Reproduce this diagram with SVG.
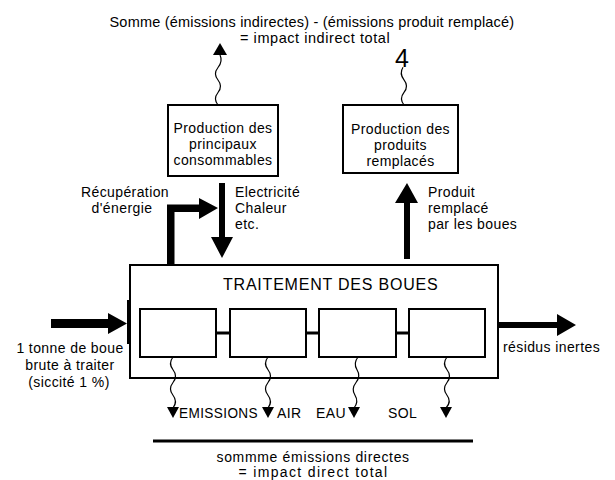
<svg xmlns="http://www.w3.org/2000/svg" width="615" height="480" viewBox="0 0 615 480">
<style>
.t{font-family:"Liberation Sans","Arial",sans-serif;font-size:14px;letter-spacing:0.4px;fill:#000}
.m{text-anchor:middle}
.box{fill:#fff;stroke:#000;stroke-width:2}
.wave{fill:none;stroke:#000;stroke-width:1.2}
.link{stroke:#000;stroke-width:3}
.thick{fill:#000}
</style>
<rect width="615" height="480" fill="#fff"/>

<g id="title">
<text class="t m" x="312" y="27" style="font-size:14.5px" textLength="405" lengthAdjust="spacing">Somme (émissions indirectes) - (émissions produit remplacé)</text>
<text class="t m" x="315" y="43" style="font-size:14.5px" textLength="150" lengthAdjust="spacing">= impact indirect total</text>
</g>

<g id="box-consommables">
<rect class="box" x="168" y="105" width="110" height="71"/>
<text class="t m" x="223" y="133">Production des</text>
<text class="t m" x="223" y="149">principaux</text>
<text class="t m" x="223" y="165">consommables</text>
</g>

<g id="box-remplaces">
<rect class="box" x="343" y="105" width="115" height="68" stroke-width="2.5"/>
<text class="t m" x="400.5" y="134">Production des</text>
<text class="t m" x="400.5" y="150">produits</text>
<text class="t m" x="400.5" y="166">remplacés</text>
</g>

<g id="box-traitement">
<rect class="box" x="130" y="265" width="368" height="113"/>
<text class="t m" x="330.5" y="290" style="font-size:16px" textLength="215" lengthAdjust="spacing">TRAITEMENT DES BOUES</text>
</g>
<g id="step-1"><rect class="box" x="140" y="309" width="76" height="48"/></g>
<g id="step-2"><rect class="box" x="230" y="309" width="76" height="48"/></g>
<g id="step-3"><rect class="box" x="319" y="309" width="77" height="48"/></g>
<g id="step-4"><rect class="box" x="409" y="309" width="76" height="48"/></g>

<g id="connectors">
<!-- links between steps -->
<line class="link" x1="216" y1="333" x2="230" y2="333"/>
<line class="link" x1="306" y1="333" x2="319" y2="333"/>
<line class="link" x1="396" y1="333" x2="409" y2="333"/>

<!-- indirect emission squiggles -->
<path class="wave" d="M218,105 q-5,-6.25 0,-12.5 t0,-12.5 t0,-12.5 t2,-12.5"/>
<polygon class="thick" points="220,43 213,55 227,55"/>
<path class="wave" d="M404,105 q-5,-6.3 0,-12.6 t0,-12.6 t-1,-12.6"/>
<text class="t m" x="402" y="67" style="font-size:25px;letter-spacing:0">4</text>

<!-- energy recovery L arrow -->
<path class="thick" d="M167,265 V204.5 H199 V198 L218,208 L199,219 V212 H174.5 V265 Z"/>
<!-- electricity down arrow -->
<path class="thick" d="M219,183 H225 V237 H233 L222,258 L211,237 H219 Z"/>
<!-- product replaced up arrow -->
<path class="thick" d="M404,259 V203 H395 L407,183 L418,203 H410 V259 Z"/>

<!-- input and output arrows -->
<path class="thick" d="M51,319 H108 V313 L127,323.5 L108,334 V328 H51 Z"/>
<rect class="thick" x="127" y="300" width="3" height="44"/>
<path class="thick" d="M499,322 H557 V314 L576,325 L557,336 V328 H499 Z"/>

<!-- direct emission squiggles -->
<path class="wave" d="M173,357 q-5,6.4 0,12.75 t0,12.75 t0,12.75 t0,12.75"/>
<polygon class="thick" points="167,407 179,407 173,418"/>
<path class="wave" d="M268,357 q-5,6.4 0,12.75 t0,12.75 t0,12.75 t0,12.75"/>
<polygon class="thick" points="262,407 274,407 268,418"/>
<path class="wave" d="M358,357 q-5,6.4 -1,12.75 t-1,12.75 t-1,12.75 t-1,12.75"/>
<polygon class="thick" points="348,407 360,407 354,418"/>
<path class="wave" d="M447,357 q-5,6.4 0,12.75 t0,12.75 t0,12.75 t-1,12.75"/>
<polygon class="thick" points="440,407 452,407 446,418"/>

<!-- sum line -->
<line x1="153" y1="441" x2="473" y2="441" stroke="#000" stroke-width="3"/>
</g>

<g id="labels">
<text class="t m" x="125" y="197">Récupération</text>
<text class="t m" x="122" y="213">d'énergie</text>
<text class="t" x="235" y="197">Electricité</text>
<text class="t" x="235" y="213">Chaleur</text>
<text class="t" x="235" y="229">etc.</text>
<text class="t" x="428" y="197">Produit</text>
<text class="t" x="428" y="213">remplacé</text>
<text class="t" x="428" y="229">par les boues</text>
<text class="t m" x="70" y="353">1 tonne de boue</text>
<text class="t m" x="70" y="370">brute à traiter</text>
<text class="t m" x="69" y="387">(siccité 1 %)</text>
<text class="t" x="503" y="352">résidus inertes</text>
<text class="t" x="179" y="418" textLength="79" lengthAdjust="spacingAndGlyphs">EMISSIONS</text>
<text class="t" x="277" y="418">AIR</text>
<text class="t" x="316" y="418">EAU</text>
<text class="t" x="388" y="418">SOL</text>
<text class="t m" x="313" y="462" textLength="193" lengthAdjust="spacing">sommme émissions directes</text>
<text class="t m" x="313" y="477" textLength="149" lengthAdjust="spacing">= impact direct total</text>
</g>
</svg>
